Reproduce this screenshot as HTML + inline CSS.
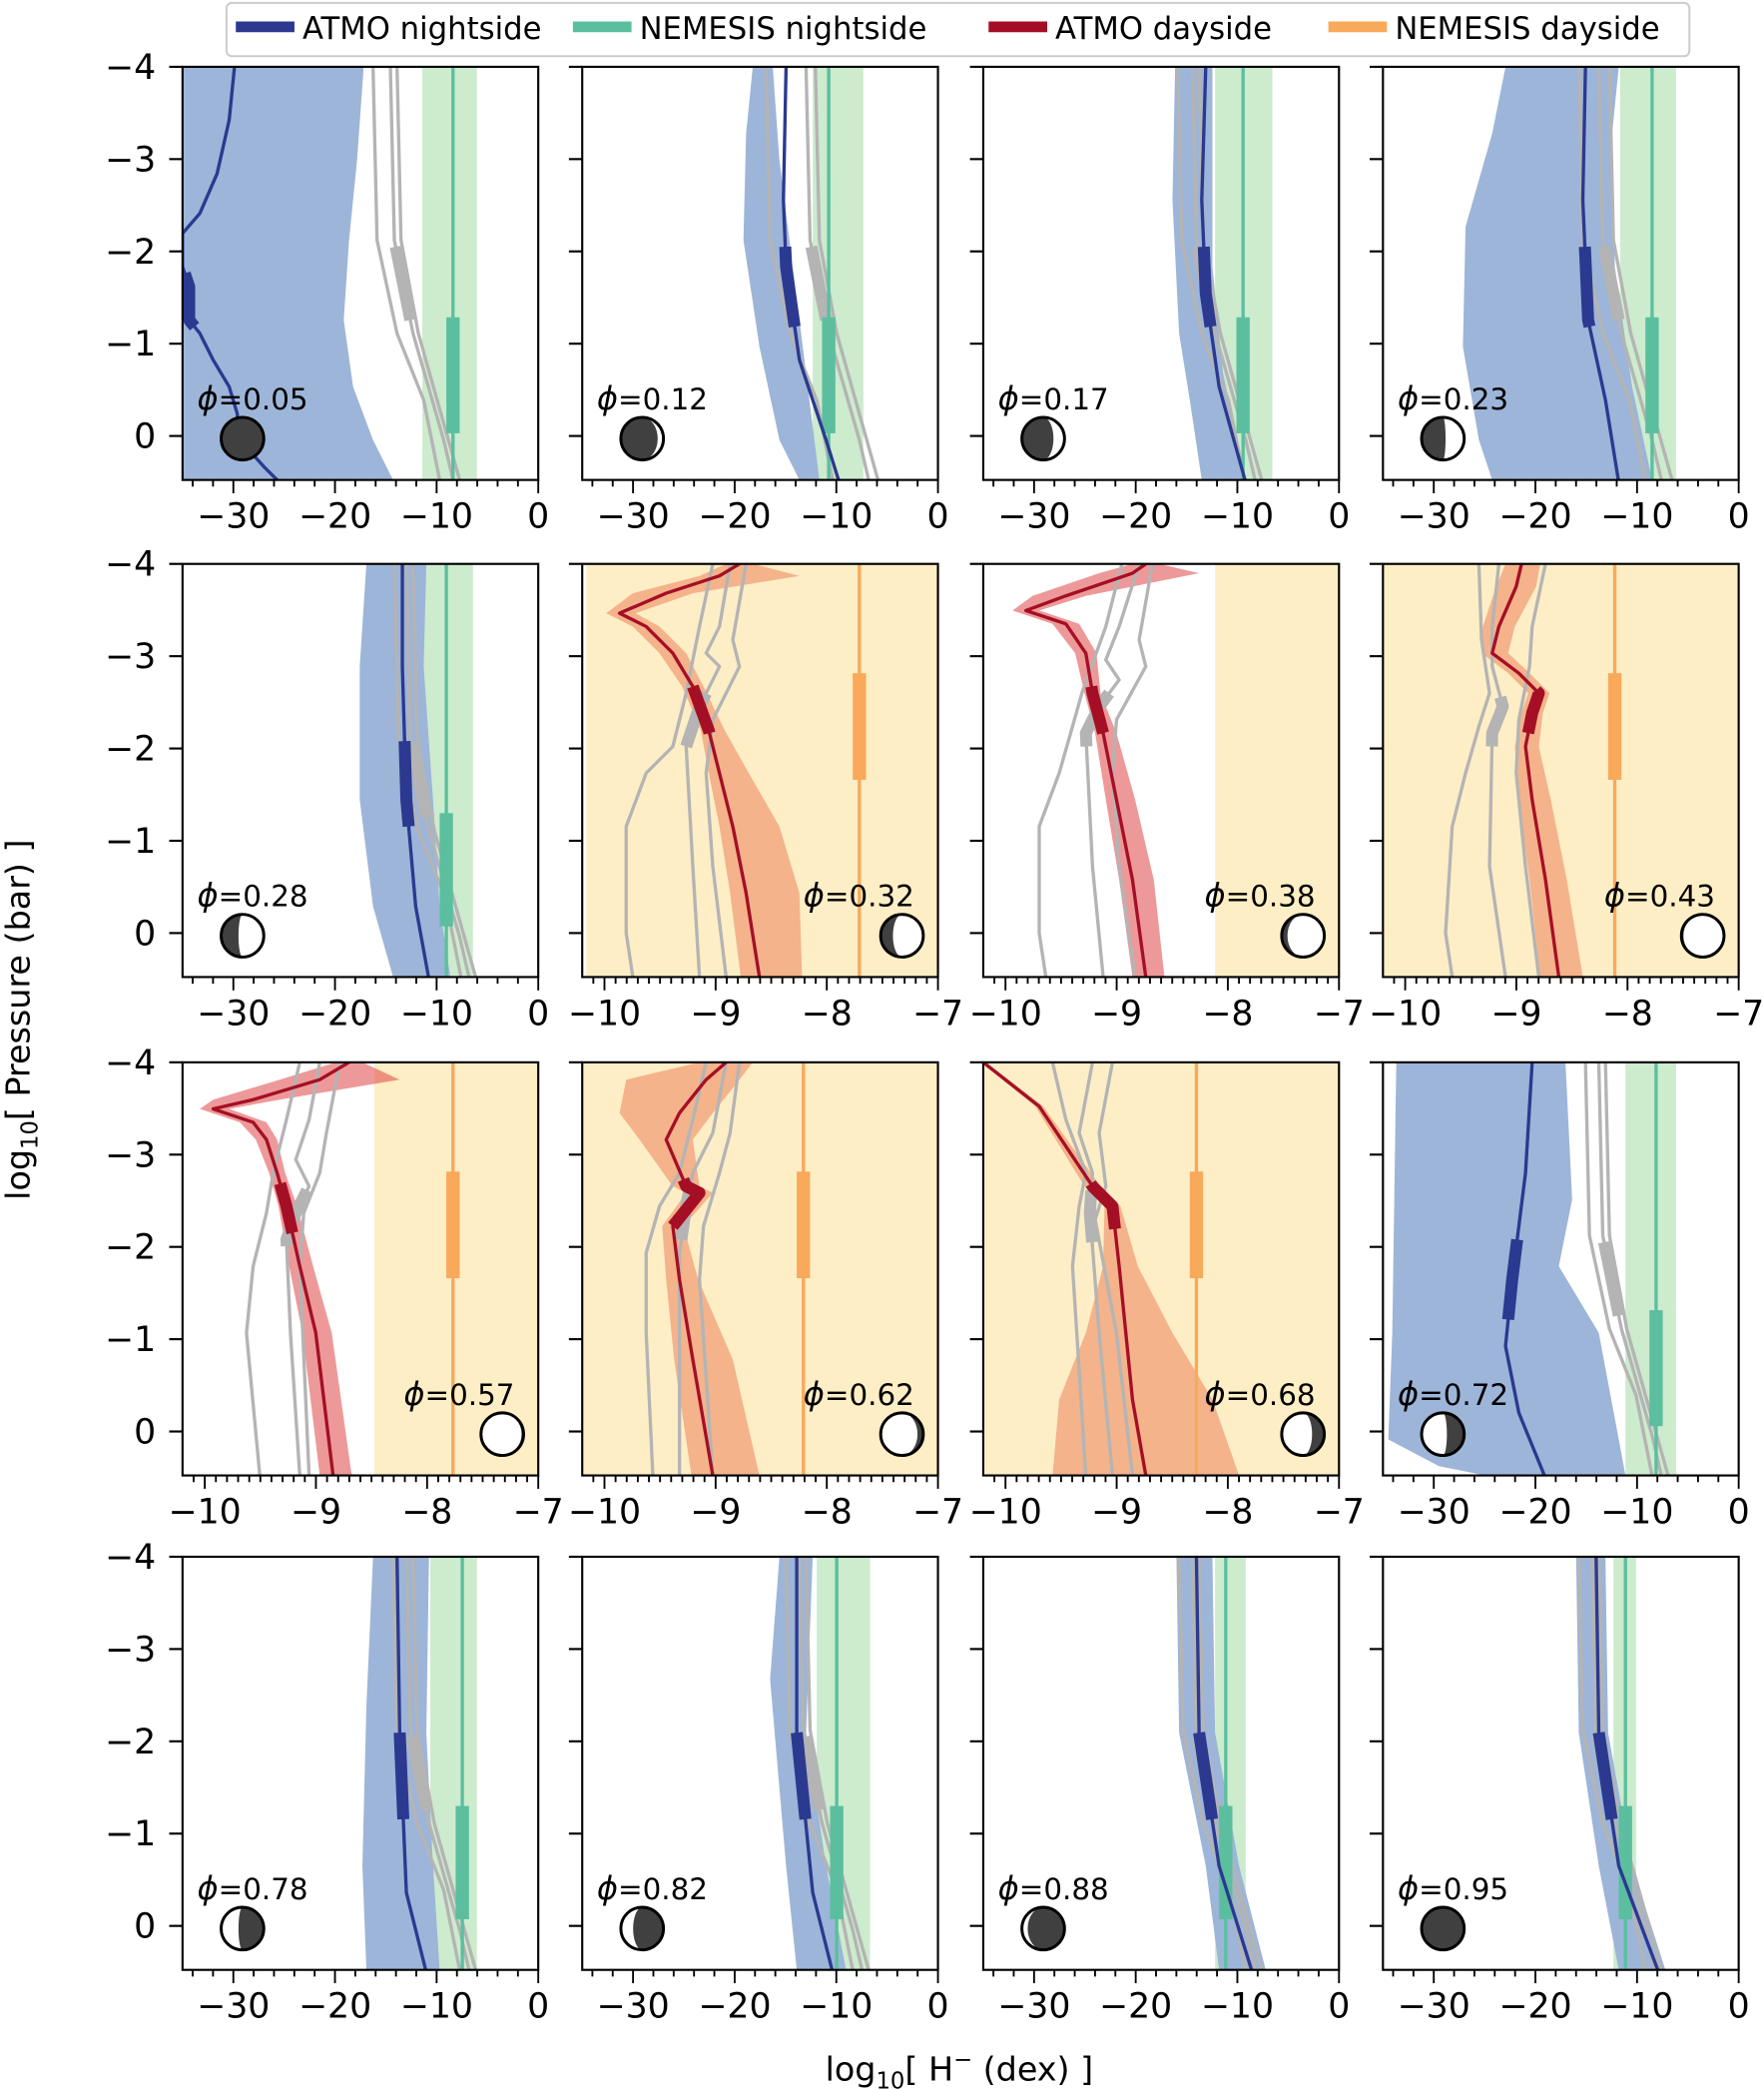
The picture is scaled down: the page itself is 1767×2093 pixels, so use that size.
<!DOCTYPE html>
<html><head><meta charset="utf-8"><style>
html,body{margin:0;padding:0;background:#fff}
svg{display:block}
text{font-family:"DejaVu Sans","Liberation Sans",sans-serif;fill:#000}
</style></head><body>
<svg id="s" width="1767" height="2093" viewBox="0 0 1324 1568" xmlns="http://www.w3.org/2000/svg"></svg>
<script>
const S=document.getElementById('s');let h='';
const cols=[137,437,738,1038],rows=[50,423,797,1168],W=267,H=310;
const BB='#9db5d8',BL='#2b3990',GB='#cdebcd',GL='#5bbf9f',RL='#a50f25',RBW='rgba(222,70,70,0.55)',RBY='rgba(235,120,80,0.5)',OL='#f9a95a',YB='#fdeec6',GR='#b4b4b4';
function pl(p,c,w,extra){return `<polyline points="${p.map(a=>a[0]+','+a[1]).join(' ')}" fill="none" stroke="${c}" stroke-width="${w}" stroke-linejoin="round" stroke-linecap="butt" ${extra||''}/>`;}
function pg(p,c){return `<polygon points="${p.map(a=>a[0]+','+a[1]).join(' ')}" fill="${c}"/>`;}
function seg(p,y1,y2){
 let out=[];for(let i=0;i<p.length-1;i++){let [xa,ya]=p[i],[xb,yb]=p[i+1];
  for(const y of [y1,y2]){ if((y-ya)*(y-yb)<=0&&ya!=yb){out.push([xa+(xb-xa)*(y-ya)/(yb-ya),y]);}}
  if(p[i+1][1]>y1&&p[i+1][1]<y2)out.push(p[i+1]);}
 out.sort((a,b)=>a[1]-b[1]);return out;}
function band(L,R){return pg(L.concat(R.slice().reverse()),BB);}
function offband(p,c){let L=p.map(a=>[a[0]-a[2],a[1]]),R=p.map(a=>[a[0]+a[3],a[1]]);return pg(L.concat(R.reverse()),c);}
function moon(cx,cy,ph){let r=16,k=Math.cos(2*Math.PI*ph),rx=Math.abs(k)*r;
 let sw=k>0?0:1;let d=`M${cx},${cy-r} A${r},${r} 0 0 0 ${cx},${cy+r} A${rx},${r} 0 0 ${sw} ${cx},${cy-r}Z`;
 let tr=ph>0.5?`transform="translate(${2*cx},0) scale(-1,1)"`:'';
 return `<circle cx="${cx}" cy="${cy}" r="${r}" fill="#fff"/><path d="${d}" fill="#404040" ${tr}/><circle cx="${cx}" cy="${cy}" r="${r}" fill="none" stroke="#000" stroke-width="2.2"/>`;}
function lab(x,y,t){return `<text x="${x}" y="${y}" font-size="22"><tspan font-style="italic" font-size="24">ϕ</tspan>=${t}</text>`;}
function greys(L){return L.map(p=>pl(p,GR,2.5)).join('');}
function axes(i,j,type){let x0=cols[j],y0=rows[i];let s='';
 s+=`<rect x="${x0}" y="${y0}" width="${W}" height="${H}" fill="none" stroke="#000" stroke-width="1.6"/>`;
 for(let k=0;k<=4;k++){let y=y0+k*69.25;s+=`<line x1="${x0-10}" y1="${y}" x2="${x0}" y2="${y}" stroke="#000" stroke-width="1.6"/>`;
  if(j==0)s+=`<text x="${x0-20}" y="${y+9}" font-size="26" text-anchor="end">${k==4?'0':'−'+(4-k)}</text>`;}
 let yb=y0+H;
 if(type=='n'){let sc=W/35;for(let v=-34;v<=0;v+=2){let x=x0+(v+35)*sc;let maj=v%10==0;
   s+=`<line x1="${x}" y1="${yb}" x2="${x}" y2="${yb+(maj?10:5)}" stroke="#000" stroke-width="1.4"/>`;
   if(maj)s+=`<text x="${x}" y="${yb+36}" font-size="26" text-anchor="middle">${v==0?'0':'−'+(-v)}</text>`;}}
 else{let sc=W/3.2;for(let q=-101;q<=-70;q++){let v=q/10;let x=x0+(v+10.2)*sc;if(x<x0-0.5)continue;let maj=q%10==0;
   s+=`<line x1="${x}" y1="${yb}" x2="${x}" y2="${yb+(maj?10:5)}" stroke="#000" stroke-width="1.4"/>`;
   if(maj)s+=`<text x="${x}" y="${yb+36}" font-size="26" text-anchor="middle">−${-q/10}</text>`;}}
 return s;}
function clip(i,j,id){return `<clipPath id="${id}"><rect x="${cols[j]}" y="${rows[i]}" width="${W}" height="${H}"/></clipPath>`;}
function night(i,j,o){let x0=cols[j],y0=rows[i],d=y0-50;let s=`<g clip-path="url(#c${i}${j})">`;
 const t=p=>p.map(a=>[a[0],a[1]+d]);
 s+=`<rect x="${o.g[0]}" y="${y0}" width="${o.g[1]-o.g[0]}" height="${H}" fill="${GB}"/>`;
 s+=band(t(o.L),t(o.R));
 let G=o.gr.map(t);s+=greys(G);
 s+=pl(seg(G[1],185+d,240+d),GR,9);
 s+=`<line x1="${o.gx}" y1="${y0}" x2="${o.gx}" y2="${y0+H}" stroke="${GL}" stroke-width="2.5"/>`;
 s+=`<rect x="${o.gx-5}" y="${o.gt[0]+d}" width="10" height="${o.gt[1]-o.gt[0]}" fill="${GL}"/>`;
 let B=t(o.b);s+=pl(B,BL,2.5);s+=pl(seg(B,o.bt[0]+d,o.bt[1]+d),BL,9);
 s+='</g>';return s;}
function day(i,j,o){let x0=cols[j],y0=rows[i];let s=`<g clip-path="url(#c${i}${j})">`;
 s+=`<rect x="${o.y}" y="${y0}" width="${x0+W-o.y}" height="${H}" fill="${YB}"/>`;
 s+=offband(o.r,o.w?RBW:RBY);
 s+=greys(o.gr);
 let R=o.r.map(a=>[a[0],a[1]]);
 s+=pl(seg(o.gr[1],o.rt[0]+5,o.rt[1]+10),GR,9);
 s+=`<line x1="${o.ox}" y1="${y0}" x2="${o.ox}" y2="${y0+H}" stroke="${OL}" stroke-width="2.5"/>`;
 s+=`<rect x="${o.ox-5}" y="${y0+82}" width="10" height="80" fill="${OL}"/>`;
 s+=pl(R,RL,2.5);s+=pl(seg(R,o.rt[0],o.rt[1]),RL,9);
 s+='</g>';return s;}
let defs='<defs>';for(let i=0;i<4;i++)for(let j=0;j<4;j++)defs+=clip(i,j,'c'+i+j);defs+='</defs>';h+=defs;
const ngr=(a,b,c)=>[[[a,50],[a+3,180],[a+18,250],[a+38,300],[a+50,360]],[[b,50],[b+3,180],[b+17,250],[b+40,330],[b+47,360]],[[c,50],[c+3,180],[c+16,250],[c+47,360]]];
h+=night(0,0,{g:[317,358],gx:340,gt:[238,325],L:[[137,50],[137,360]],R:[[273,50],[268,120],[262,180],[258,240],[265,290],[280,330],[295,360]],
 gr:ngr(280,293,298),b:[[176,50],[172,90],[163,130],[150,160],[137,175],[137,200],[142,215],[142,240],[150,250],[160,270],[172,290],[178,310],[180,330],[198,350],[210,362]],bt:[205,245]});
h+=night(0,1,{g:[610,648],gx:622,gt:[238,325],L:[[565,50],[560,100],[558,180],[570,260],[585,330],[600,360]],R:[[580,50],[585,120],[595,200],[605,280],[615,360]],
 gr:ngr(575,605,612),b:[[590,50],[588,150],[590,200],[600,270],[620,330],[630,362]],bt:[185,245]});
h+=night(0,2,{g:[912,955],gx:933,gt:[238,325],L:[[882,50],[880,150],[885,250],[893,300],[902,360]],R:[[910,50],[910,200],[918,280],[935,360]],
 gr:ngr(884,895,900),b:[[905,50],[902,150],[905,220],[915,290],[935,362]],bt:[185,245]});
h+=night(0,3,{g:[1216,1258],gx:1240,gt:[238,325],L:[[1130,50],[1120,100],[1100,170],[1098,260],[1110,330],[1120,360]],R:[[1215,50],[1210,100],[1212,200],[1225,290],[1240,360]],
 gr:ngr(1185,1200,1208),b:[[1190,50],[1188,150],[1192,240],[1205,300],[1215,362]],bt:[185,245]});
h+=night(1,0,{g:[316,355],gx:335,gt:[237,322],L:[[275,50],[270,127],[270,227],[280,307],[295,360]],R:[[320,50],[318,127],[325,227],[330,307],[338,360]],
 gr:ngr(296,305,310),b:[[302,50],[302,127],[305,227],[312,307],[322,362]],bt:[183,247]});
h+=day(1,1,{y:440,ox:645,rt:[515,550],
 r:[[555,423,10,10],[540,432,15,60],[500,445,25,20],[465,460,10,12],[485,470,10,10],[505,490,10,10],[520,515,8,8],[532,548,6,12],[540,580,8,22],[550,620,10,35],[560,670,12,40],[570,733,14,32]],
 gr:[[[535,423],[525,470],[515,520],[505,560],[485,580],[470,620],[470,700],[475,733]],[[548,423],[540,470],[530,490],[540,500],[525,530],[515,560],[520,650],[525,733]],[[560,423],[550,480],[555,500],[535,540],[530,580],[535,650],[545,733]]]});
h+=day(1,2,{y:912,ox:1200,rt:[515,550],w:1,
 r:[[860,423,10,10],[850,430,25,50],[800,447,25,15],[770,458,10,10],[800,468,10,10],[815,490,8,8],[820,520,6,6],[828,550,6,10],[838,600,8,14],[850,660,10,16],[860,733,10,14]],
 gr:[[[842,423],[830,470],[812,520],[805,545],[795,580],[780,620],[780,700],[785,733]],[[855,423],[840,470],[830,495],[840,510],[825,530],[815,550],[820,650],[828,733]],[[865,423],[855,480],[860,500],[838,540],[835,580],[840,650],[852,733]]]});
h+=day(1,3,{y:1038,ox:1212,rt:[518,550],
 r:[[1142,423,12,14],[1138,440,15,15],[1125,470,12,12],[1120,490,8,12],[1140,505,8,8],[1155,520,8,8],[1150,535,8,8],[1145,560,8,10],[1150,600,10,14],[1160,660,12,16],[1170,733,14,18]],
 gr:[[[1110,423],[1112,480],[1118,520],[1110,545],[1100,580],[1090,620],[1085,700],[1090,733]],[[1125,423],[1120,470],[1120,500],[1128,530],[1120,550],[1118,650],[1130,733]],[[1160,423],[1150,470],[1148,500],[1140,540],[1138,580],[1145,650],[1155,733]]]});
h+=day(2,0,{y:281,ox:340,rt:[888,925],w:1,
 r:[[262,797,10,10],[240,810,30,60],[190,825,30,20],[160,832,10,12],[190,842,10,10],[200,855,8,8],[208,880,6,6],[215,905,6,8],[225,950,8,10],[237,1000,10,12],[250,1107,10,14]],
 gr:[[[225,797],[215,840],[205,880],[200,910],[190,950],[185,1000],[195,1107]],[[240,797],[232,840],[222,870],[232,890],[222,910],[215,930],[218,1000],[225,1107]],[[255,797],[245,850],[240,880],[228,910],[225,950],[232,1107]]]});
h+=day(2,1,{y:437,ox:603,rt:[885,920],
 r:[[545,797,20,20],[530,810,60,25],[510,835,45,25],[500,855,20,20],[515,890,10,10],[525,895,10,10],[505,920,8,8],[510,960,10,14],[520,1020,14,30],[535,1107,16,35]],
 gr:[[[530,797],[520,840],[510,880],[495,905],[485,940],[485,1000],[490,1107]],[[545,797],[535,850],[520,880],[515,905],[510,940],[510,1107]],[[555,797],[548,850],[540,880],[528,920],[525,960],[535,1107]]]});
h+=day(2,2,{y:738,ox:898,rt:[888,922],
 r:[[738,797,2,2],[780,830,3,3],[820,890,6,6],[835,905,6,6],[840,950,12,14],[845,1000,30,35],[850,1050,55,60],[860,1107,70,70]],
 gr:[[[790,797],[800,840],[815,880],[810,905],[805,950],[815,1107]],[[820,797],[810,850],[820,880],[818,910],[825,1000],[835,1107]],[[835,797],[825,850],[830,890],[822,915],[838,1000],[850,1107]]]});
h+=night(2,3,{g:[1220,1258],gx:1243,gt:[236,323],L:[[1048,50],[1045,253],[1042,333],[1080,353],[1130,363]],R:[[1175,50],[1180,153],[1170,203],[1200,253],[1215,333],[1220,360]],
 gr:ngr(1190,1200,1205),b:[[1150,50],[1145,133],[1135,213],[1130,263],[1140,313],[1160,362]],bt:[183,243]});
h+=night(3,0,{g:[323,358],gx:347,gt:[237,322],L:[[280,50],[275,162],[272,282],[275,360]],R:[[322,50],[320,182],[325,282],[330,360]],
 gr:ngr(295,305,310),b:[[298,50],[300,182],[305,302],[320,362]],bt:[182,247]});
h+=night(3,1,{g:[613,653],gx:628,gt:[237,322],L:[[585,50],[578,142],[590,282],[598,360]],R:[[610,50],[605,182],[620,282],[635,360]],
 gr:ngr(590,600,605),b:[[598,50],[598,182],[610,302],[625,362]],bt:[182,247]});
h+=night(3,2,{g:[912,935],gx:920,gt:[237,322],L:[[883,50],[885,182],[905,282],[915,360]],R:[[910,50],[912,182],[930,282],[950,360]],
 gr:ngr(885,895,900),b:[[898,50],[900,182],[915,282],[940,362]],bt:[182,247]});
h+=night(3,3,{g:[1211,1228],gx:1220,gt:[237,322],L:[[1183,50],[1185,182],[1200,282],[1215,360]],R:[[1205,50],[1207,182],[1225,282],[1250,360]],
 gr:ngr(1185,1195,1200),b:[[1198,50],[1200,182],[1215,282],[1245,362]],bt:[182,247]});
const types=[['n','n','n','n'],['n','d','d','d'],['d','d','d','n'],['n','n','n','n']];
for(let i=0;i<4;i++)for(let j=0;j<4;j++)h+=axes(i,j,types[i][j]);
const M=[[0,0,.05,'l'],[0,1,.12,'l'],[0,2,.17,'l'],[0,3,.23,'l'],[1,0,.28,'l'],[1,1,.32,'r'],[1,2,.38,'r'],[1,3,.43,'r'],
[2,0,.57,'r'],[2,1,.62,'r'],[2,2,.68,'r'],[2,3,.72,'l'],[3,0,.78,'l'],[3,1,.82,'l'],[3,2,.88,'l'],[3,3,.95,'l']];
for(const [i,j,ph,side] of M){let x0=cols[j],y0=rows[i];
 let cx=side=='l'?x0+45:x0+240,cy=y0+279;let lx=side=='l'?x0+11:x0+166;
 h+=lab(lx,y0+257,ph.toFixed(2));h+=moon(cx,cy,ph);}
h+=`<rect x="170" y="2" width="1098" height="40" rx="4" fill="#fff" stroke="#ccc" stroke-width="1.5"/>`;
const lg=[[177,BL,'ATMO nightside'],[430,GL,'NEMESIS nightside'],[742,RL,'ATMO dayside'],[997,OL,'NEMESIS dayside']];
for(const [x,c,t] of lg){h+=`<line x1="${x}" y1="20" x2="${x+44}" y2="20" stroke="${c}" stroke-width="8"/><text x="${x+50}" y="29" font-size="23">${t}</text>`;}
h+=`<text transform="translate(22,765) rotate(-90)" font-size="25" text-anchor="middle">log<tspan font-size="17" dy="6">10</tspan><tspan dy="-6">[ Pressure (bar) ]</tspan></text>`;
h+=`<text x="720" y="1561" font-size="25" text-anchor="middle">log<tspan font-size="17" dy="6">10</tspan><tspan dy="-6">[ H</tspan><tspan font-size="17" dy="-10">−</tspan><tspan dy="10"> (dex) ]</tspan></text>`;
S.innerHTML=h;
</script>
</body></html>
